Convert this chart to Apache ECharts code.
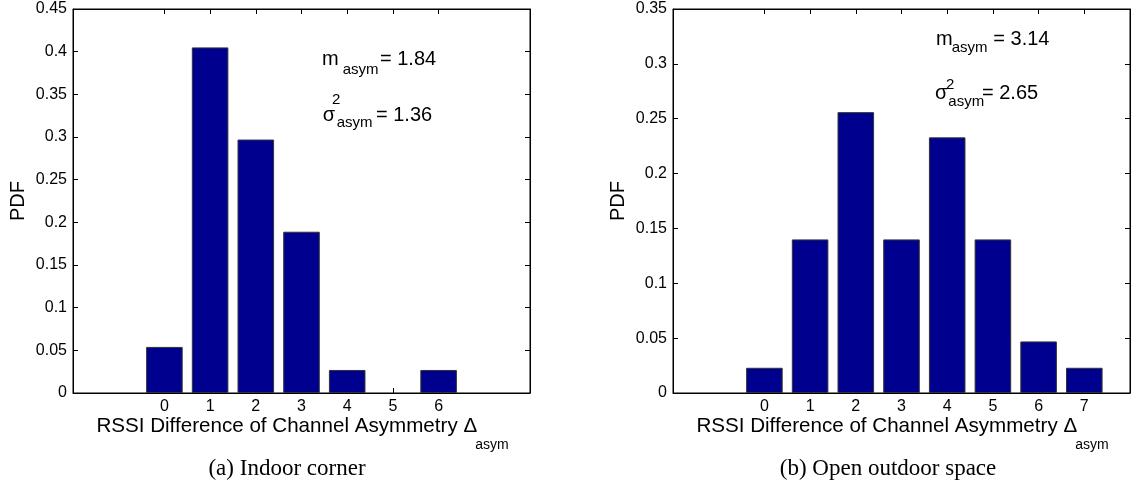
<!DOCTYPE html>
<html>
<head>
<meta charset="utf-8">
<script src="https://cdn.jsdelivr.net/npm/echarts@6/dist/echarts.min.js"></script>
<style>
  html, body { margin: 0; padding: 0; background: #fff; }
  #chart { width: 1133px; height: 487px; }
</style>
</head>
<body>
<div id="chart"></div>
<script>
// ---------- data ----------
// (a) Indoor corner
const binsA = ['0', '1', '2', '3', '4', '5', '6'];
const pdfA  = [0.054, 0.405, 0.297, 0.189, 0.027, 0, 0.027];
// (b) Open outdoor space
const binsB = ['0', '1', '2', '3', '4', '5', '6', '7'];
const pdfB  = [0.023, 0.140, 0.256, 0.140, 0.233, 0.140, 0.047, 0.023];
// x-axis range shown (category positions, including empty margins)
const axisCatsA = ['-2', '-1', '0', '1', '2', '3', '4', '5', '6', '7', '8'];
const axisCatsB = ['-2', '-1', '0', '1', '2', '3', '4', '5', '6', '7', '8'];
// y-axis limits
const yMaxA = 0.45, yMaxB = 0.35, yStep = 0.05;

const statsA = { m: '= 1.84', s: '= 1.36' };
const statsB = { m: '= 3.14', s: '= 2.65' };
const xTitle = 'RSSI Difference of Channel Asymmetry \u0394';
const xTitleSub = 'asym';
const captionA = '(a) Indoor corner';
const captionB = '(b) Open outdoor space';

// ---------- layout ----------
const SANS = '"Liberation Sans", Arial, Helvetica, sans-serif';
const SERIF = '"Liberation Serif", "Times New Roman", Times, serif';
const G = [
  { left: 73, top: 9, width: 457, height: 384 },
  { left: 673, top: 9, width: 457, height: 384 }
];
const BAR = '#00008F';
const INK = '#000';

function seriesData(axisCats, bins, vals) {
  return axisCats.map(c => {
    const i = bins.indexOf(c);
    if (i < 0) return null;
    return vals[i] === 0 ? { value: 0, itemStyle: { borderWidth: 0 } } : vals[i];
  });
}

function xAxes(gi, cats, bins) {
  const show = (idx, v) => bins.indexOf(v) >= 0;
  const mk = (pos, withLabels) => ({
    type: 'category', gridIndex: gi, data: cats, boundaryGap: false, position: pos,
    axisLine: { show: true, onZero: false, lineStyle: { color: INK, width: 1 } },
    axisTick: { show: true, inside: true, length: 5, interval: show, lineStyle: { color: INK } },
    splitLine: { show: false },
    axisLabel: withLabels
      ? { show: true, interval: show, margin: 6, fontSize: 16, fontFamily: SANS, color: INK }
      : { show: false }
  });
  return [mk('bottom', true), mk('top', false)];
}

function yAxes(gi, ymax) {
  const mk = (pos, withLabels) => {
    const a = {
      type: 'value', gridIndex: gi, min: 0, max: ymax, interval: yStep, position: pos,
      axisLine: { show: true, onZero: false, lineStyle: { color: INK, width: 1 } },
      axisTick: { show: true, inside: true, length: 5, lineStyle: { color: INK } },
      splitLine: { show: false },
      axisLabel: withLabels
        ? { show: true, margin: 6, fontSize: 16, fontFamily: SANS, color: INK,
            showMinLabel: true, showMaxLabel: true }
        : { show: false }
    };
    if (withLabels) {
      a.name = 'PDF'; a.nameLocation = 'middle'; a.nameRotate = 90; a.nameGap = 45;
      a.nameTextStyle = { fontSize: 20, fontFamily: SANS, color: INK };
    }
    return a;
  };
  return [mk('left', true), mk('right', false)];
}

// text measurement for centering the x title with its subscript
const mctx = document.createElement('canvas').getContext('2d');
function measure(str, size, fam) { mctx.font = size + 'px ' + fam; return mctx.measureText(str).width; }

// text element positioned by baseline
function T(x, baseline, str, size, fam, align) {
  const k = fam === SERIF ? 0.3375 : 0.35;
  return {
    type: 'text', x: x, y: baseline - k * size, silent: true,
    style: {
      text: str, font: size + 'px ' + fam, fill: INK,
      align: align || 'left', verticalAlign: 'middle',
      textAlign: align || 'left', textVerticalAlign: 'middle'
    }
  };
}

function xTitleEls(g) {
  const cx = g.left + g.width / 2 + 1;
  const fMain = 20.6, fSub = 14;
  const wMain = measure(xTitle, fMain, SANS);
  const wSub = measure(xTitleSub, fSub, SANS);
  const x0 = cx - (wMain + wSub - 2) / 2;
  return [T(x0, 434, xTitle, fMain, SANS), T(x0 + wMain - 2, 450, xTitleSub, fSub, SANS)];
}

const graphics = [].concat(
  xTitleEls(G[0]), xTitleEls(G[1]),
  // annotations (a)
  [
    T(322, 66, 'm', 20, SANS), T(342.7, 75.5, 'asym', 15, SANS), T(380, 66, statsA.m, 20, SANS),
    T(322.7, 122, '\u03c3', 20, SANS), T(332, 105, '2', 15, SANS), T(336.7, 128, 'asym', 15, SANS),
    T(376, 122, statsA.s, 20, SANS)
  ],
  // annotations (b)
  [
    T(936, 46.5, 'm', 20, SANS), T(951.7, 53.5, 'asym', 15, SANS), T(993.3, 46.5, statsB.m, 20, SANS),
    T(935, 100, '\u03c3', 20, SANS), T(946, 90, '2', 15, SANS), T(948.3, 107, 'asym', 15, SANS),
    T(982, 100, statsB.s, 20, SANS)
  ],
  // captions
  [T(287, 476.7, captionA, 23, SERIF, 'center'), T(888, 476.7, captionB, 23, SERIF, 'center')]
);

const barStyle = { color: BAR, borderColor: '#333', borderWidth: 1 };

const option = {
  animation: false,
  backgroundColor: '#fff',
  grid: G.map(g => Object.assign({ show: true, borderColor: INK, borderWidth: 1,
                                    backgroundColor: 'transparent', containLabel: false }, g)),
  xAxis: [].concat(xAxes(0, axisCatsA, binsA), xAxes(1, axisCatsB, binsB)),
  yAxis: [].concat(yAxes(0, yMaxA), yAxes(1, yMaxB)),
  series: [
    { type: 'bar', xAxisIndex: 0, yAxisIndex: 0, barWidth: '80%', itemStyle: barStyle,
      data: seriesData(axisCatsA, binsA, pdfA) },
    { type: 'bar', xAxisIndex: 2, yAxisIndex: 2, barWidth: '80%', itemStyle: barStyle,
      data: seriesData(axisCatsB, binsB, pdfB) }
  ],
  graphic: graphics
};

const chart = echarts.init(document.getElementById('chart'), null, { renderer: 'canvas' });
chart.setOption(option);
</script>
</body>
</html>
